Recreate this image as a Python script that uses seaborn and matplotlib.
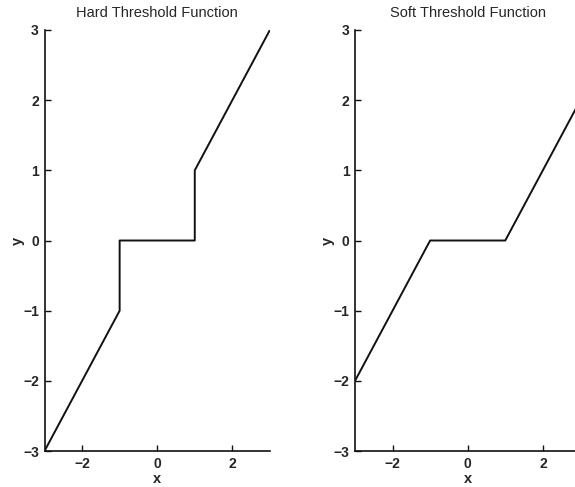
import matplotlib
matplotlib.use("Agg")
import matplotlib.pyplot as plt
import seaborn as sns
import pandas as pd

# Hard threshold: keep x where |x| > 1, zero otherwise
hard_x = [-3, -1, -1, 1, 1, 3]
hard_y = [-3, -1, 0, 0, 1, 3]

# Soft threshold: shrink x toward zero by 1
soft_x = [-3, -1, 1, 3]
soft_y = [-2, 0, 0, 2]

ticks_x = [-2, 0, 2]
ticks_y = [-3, -2, -1, 0, 1, 2, 3]

sns.set_theme(style="ticks")
plt.rcParams["font.family"] = ["Liberation Sans", "DejaVu Sans"]

fig = plt.figure(figsize=(5.75, 4.87), dpi=100)
ax1 = fig.add_axes([0.0774, 0.0739, 0.392, 0.8645])
ax2 = fig.add_axes([0.6174, 0.0739, 0.392, 0.8645])

panels = [
    (ax1, hard_x, hard_y, "Hard Threshold Function"),
    (ax2, soft_x, soft_y, "Soft Threshold Function"),
]

for ax, xs, ys, title in panels:
    df = pd.DataFrame({"x": xs, "y": ys})
    sns.lineplot(data=df, x="x", y="y", ax=ax, sort=False, estimator=None,
                 color="#111111", linewidth=1.4)
    ax.set_xlim(-3, 3)
    ax.set_ylim(-3, 3)
    ax.set_xticks(ticks_x)
    ax.set_yticks(ticks_y)
    ax.tick_params(direction="in", length=4, width=1, color="#111111",
                   labelsize=10, pad=4)
    for lab in ax.get_xticklabels() + ax.get_yticklabels():
        lab.set_fontweight("bold")
    sns.despine(ax=ax)
    for side in ("left", "bottom"):
        ax.spines[side].set_linewidth(1.2)
        ax.spines[side].set_color("#111111")
    ax.set_title(title, fontsize=10.5, pad=9)
    ax.set_xlabel("x", fontsize=10.5, fontweight="bold", labelpad=1)
    ax.set_ylabel("y", fontsize=10.5, fontweight="bold", labelpad=-1)
    ax.set_facecolor("white")

fig.savefig("out.png", dpi=100, facecolor="white")
